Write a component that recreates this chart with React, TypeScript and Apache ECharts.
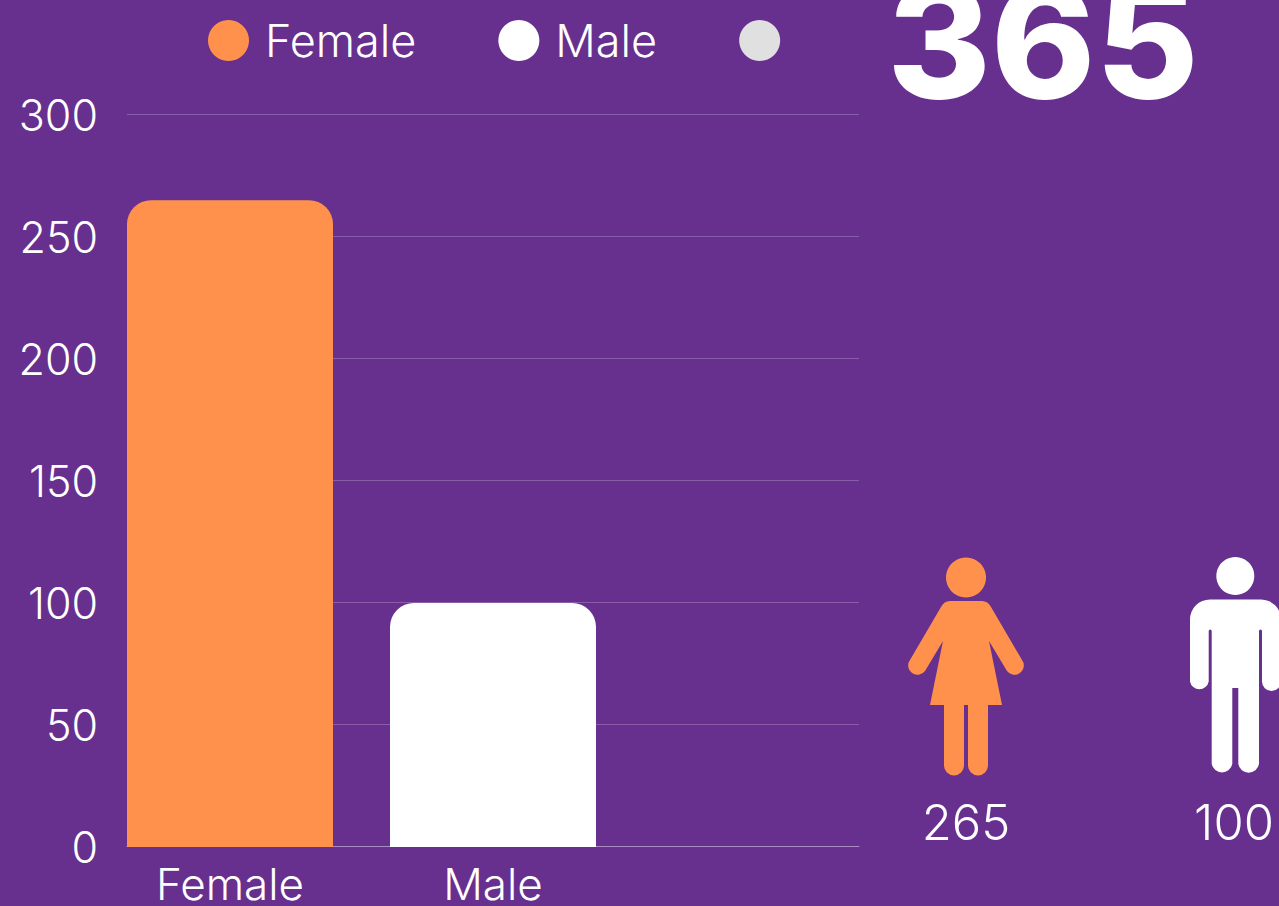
import React, { useEffect, useRef } from "react";
import * as echarts from "echarts";

const categories = ["Female", "Male", ""];
const seriesNames = ["Female", "Male", " "];
const femaleValues = [265, null, null];
const maleValues = [null, 100, null];
const otherValues = [null, null, null];
const yTicks = { min: 0, max: 300, interval: 50 };
const totalLabel = "365";
const femaleLabel = "265";
const maleLabel = "100";

const BG = "#67308F";
const ORANGE = "#FF914D";
const WHITE = "#FFFFFF";
const GREY = "#E0E0E0";
const FONT = "Inter, 'Noto Sans', sans-serif";

const femaleD =
  "M950 601 L982 601 Q988 601 991 607 L1022 660 A9 9 0 0 1 1007 671 L989 641 L1002 705 L988 705 L988 765.5 A10 10 0 0 1 968 765.5 L968 705 L964 705 L964 765.5 A10 10 0 0 1 944 765.5 L944 705 L930 705 L943 641 L925 671 A9 9 0 0 1 910 660 L941 607 Q944 601 950 601 Z";
const maleD =
  "M1210 599.5 L1261 599.5 A20 20 0 0 1 1281 619.5 L1281 681.5 A9.5 9.5 0 0 1 1262 681.5 L1262 631 A1.5 1.5 0 0 0 1259 631 L1259 764 A10.5 10.5 0 0 1 1238.3 764 L1238.3 688 L1232.3 688 L1232.3 764 A10.5 10.5 0 0 1 1211.7 764 L1211.7 631 A1.5 1.5 0 0 0 1208.7 631 L1208.7 681.5 A9.5 9.5 0 0 1 1190 681.5 L1190 619.5 A20 20 0 0 1 1210 599.5 Z";

echarts.graphic.registerShape("femaleIcon", echarts.graphic.extendPath(femaleD, {}) as any);
echarts.graphic.registerShape("maleIcon", echarts.graphic.extendPath(maleD, {}) as any);

export default function App() {
  const ref = useRef<HTMLDivElement>(null);
  useEffect(() => {
    document.body.style.margin = "0";
    document.body.style.background = BG;
    const chart = echarts.init(ref.current!, null, { renderer: "svg" });
    const bar = (name: string, data: (number | null)[], color: string) => ({
      name,
      type: "bar",
      xAxisIndex: 1,
      yAxisIndex: 1,
      data,
      barWidth: 206,
      barGap: "-100%",
      z: 3,
      itemStyle: { color, borderRadius: [24, 24, 0, 0] },
    });
    chart.setOption({
      animation: false,
      backgroundColor: BG,
      textStyle: { fontFamily: FONT },
      legend: {
        left: 203,
        top: 13,
        icon: "circle",
        itemWidth: 41,
        itemHeight: 41,
        itemGap: 82,
        data: seriesNames,
        textStyle: {
          color: WHITE,
          fontFamily: FONT,
          fontWeight: 300,
          fontSize: 45,
          padding: [0, 0, 0, 11],
        },
      },
      grid: [
        { left: 127, top: 114.5, width: 732, height: 732 },
        { left: 98.5, top: 114.8, width: 789, height: 733 },
      ],
      xAxis: [
        {
          type: "value",
          gridIndex: 0,
          min: 0,
          max: 1,
          z: 0,
          axisLabel: { show: false },
          axisTick: { show: false },
          splitLine: { show: false },
          axisLine: { show: true, lineStyle: { color: "#A98CC3", width: 1 } },
        },
        {
          type: "category",
          gridIndex: 1,
          data: categories,
          axisLine: { show: false },
          axisTick: { show: false },
          axisLabel: {
            color: WHITE,
            fontFamily: FONT,
            fontWeight: 300,
            fontSize: 44,
            lineHeight: 38,
            margin: 18,
          },
        },
      ],
      yAxis: [
        {
          type: "value",
          gridIndex: 0,
          ...yTicks,
          axisLine: { show: false },
          axisTick: { show: false },
          axisLabel: {
            color: WHITE,
            fontFamily: FONT,
            fontWeight: 300,
            fontSize: 43,
            margin: 29,
            padding: [0, 0, 5, 0],
          },
          splitLine: { show: true, lineStyle: { color: "#8A5DA9", width: 1 } },
        },
        {
          type: "value",
          gridIndex: 1,
          ...yTicks,
          show: false,
          splitLine: { show: false },
        },
      ],
      series: [
        bar(seriesNames[0], femaleValues, ORANGE),
        bar(seriesNames[1], maleValues, WHITE),
        bar(seriesNames[2], otherValues, GREY),
      ],
      graphic: [
        {
          type: "text",
          x: 1043,
          y: 119,
          style: {
            text: totalLabel,
            fill: WHITE,
            fontFamily: FONT,
            fontWeight: 800,
            fontSize: 158,
            textAlign: "center",
            textVerticalAlign: "bottom",
          },
        },
        { type: "circle", shape: { cx: 966, cy: 577.5, r: 20 }, style: { fill: ORANGE } },
        { type: "femaleIcon", x: 0, y: 0, style: { fill: ORANGE } },
        { type: "circle", shape: { cx: 1235.3, cy: 576, r: 19 }, style: { fill: WHITE } },
        { type: "maleIcon", x: 0, y: 0, style: { fill: WHITE } },
        {
          type: "text",
          x: 966,
          y: 822,
          style: {
            text: femaleLabel,
            fill: WHITE,
            fontFamily: FONT,
            fontWeight: 300,
            fontSize: 49,
            textAlign: "center",
            textVerticalAlign: "middle",
          },
        },
        {
          type: "text",
          x: 1234,
          y: 822,
          style: {
            text: maleLabel,
            fill: WHITE,
            fontFamily: FONT,
            fontWeight: 300,
            fontSize: 49,
            textAlign: "center",
            textVerticalAlign: "middle",
          },
        },
      ],
    });
    return () => chart.dispose();
  }, []);
  return <div ref={ref} style={{ width: 1279, height: 906 }} />;
}
